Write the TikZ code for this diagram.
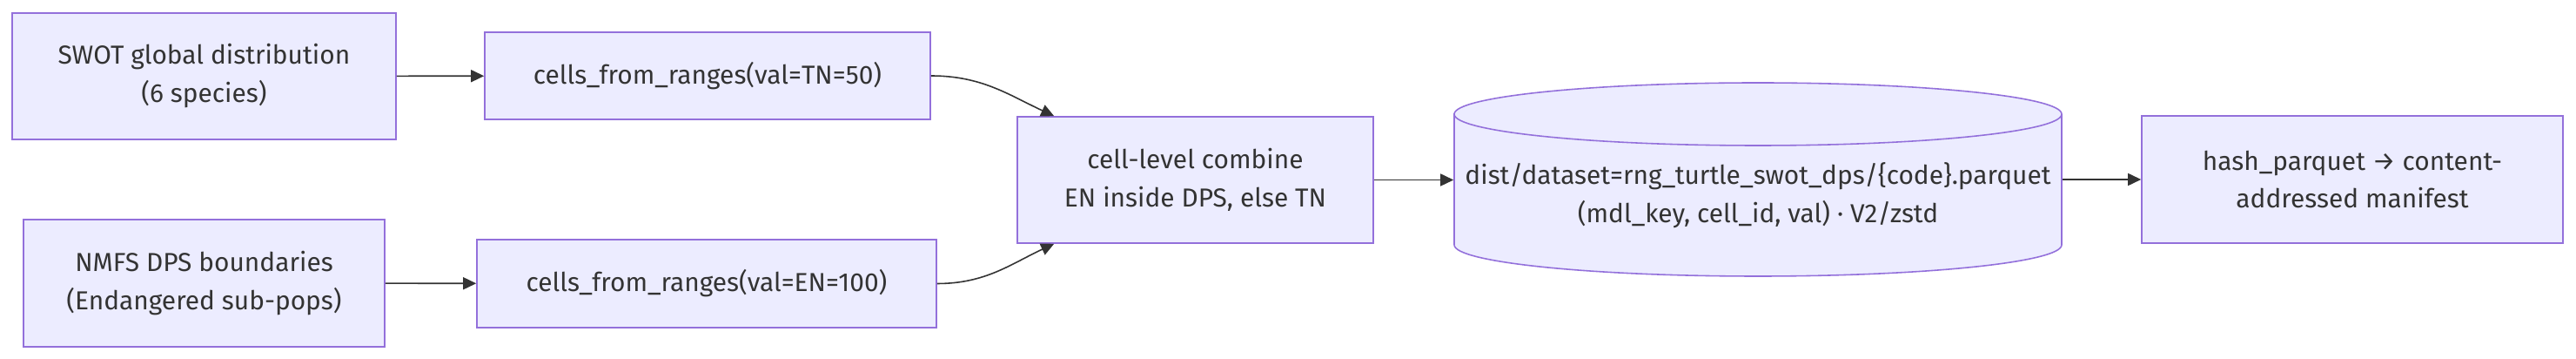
\documentclass[tikz,border=0pt]{standalone}
\usepackage{fontspec}
\setmainfont{Fira Sans}
\usetikzlibrary{positioning,arrows.meta}
\definecolor{boxfill}{HTML}{ECECFF}
\definecolor{boxline}{HTML}{9370DB}
\definecolor{inkgrey}{HTML}{333333}
\tikzset{
  box/.style={shape=rectangle,draw=boxline,fill=boxfill,line width=0.9pt,align=center,
    text=inkgrey,font=\fontsize{17}{25}\selectfont,inner sep=0pt},
  flow/.style={draw=inkgrey,line width=0.9pt,-{Triangle[length=0.3cm,width=0.28cm]}},
}
\begin{document}
\begin{tikzpicture}
  \useasboundingbox (0,0) rectangle (59.2,-8.24);
  \node[box,minimum width=8.82cm,minimum height=2.90cm] (0) at (4.69,-1.75) {SWOT global distribution\\(6 species)};
  \node[box,minimum width=10.24cm,minimum height=2.00cm] (1) at (16.26,-1.74) {cells\_from\_ranges(val=TN=50)};
  \node[box,minimum width=8.30cm,minimum height=2.92cm] (2) at (4.69,-6.50) {NMFS DPS boundaries\\(Endangered sub-pops)};
  \node[box,minimum width=10.56cm,minimum height=2.02cm] (3) at (16.24,-6.51) {cells\_from\_ranges(val=EN=100)};
  \node[box,minimum width=8.18cm,minimum height=2.90cm] (4) at (27.47,-4.13) {cell-level combine\\EN inside DPS, else TN};
  % data store drawn as a cylinder round node 5
  \filldraw[draw=boxline,fill=boxfill,line width=0.9pt] (33.42,-2.62) -- (33.42,-5.62)
    arc[start angle=180,end angle=360,x radius=6.98cm,y radius=0.72cm] -- (47.38,-2.62)
    arc[start angle=0,end angle=180,x radius=6.98cm,y radius=0.72cm] -- cycle;
  \draw[draw=boxline,line width=0.9pt] (33.42,-2.62)
    arc[start angle=180,end angle=360,x radius=6.98cm,y radius=0.72cm];
  \node[box,draw=none,fill=none,minimum width=13.96cm,minimum height=2.90cm] (5) at (40.40,-4.48) {dist/dataset=rng\_turtle\_swot\_dps/\{code\}.parquet\\(mdl\_key, cell\_id, val) · V2/zstd};
  \node[box,minimum width=9.68cm,minimum height=2.92cm] (6) at (54.06,-4.12) {hash\_parquet → content-\\addressed manifest};
  \draw [flow](0) -- (1);
  \draw [flow](2) -- (3);
  \draw [flow](1.east) to[out=0,in=155] ([xshift=0.86cm]4.north west);
  \draw [flow](3.east) to[out=0,in=-155] ([xshift=0.86cm]4.south west);
  \draw [flow](4.east) -- (4.east -| 5.west);
  \draw [flow](6.west -| 5.east) -- (6.west);
\end{tikzpicture}
\end{document}
